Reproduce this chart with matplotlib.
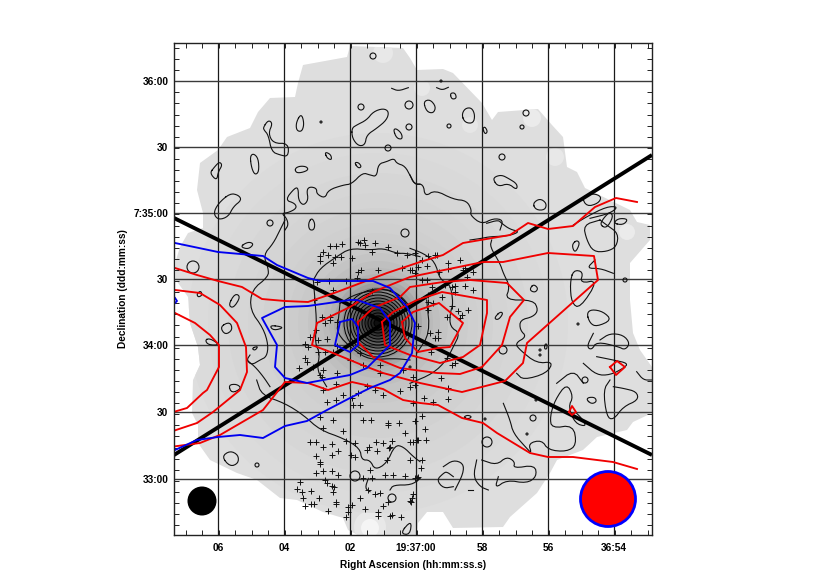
import numpy as np
import matplotlib
matplotlib.use("Agg")
import matplotlib.pyplot as plt
from matplotlib.patches import Polygon, Circle, Ellipse

plt.rcParams['font.family'] = ['Liberation Sans', 'DejaVu Sans']

# everything in image pixels (the map axes run in those units)
x_ticks = [218, 284, 350, 416, 482, 548, 614]
x_labels = ['06', '04', '02', '19:37:00', '58', '56', '36:54']
y_ticks = [81, 147, 213, 279, 345, 412, 479]
y_labels = ['36:00', '30', '7:35:00', '30', '34:00', '30', '33:00']

footprint = [(410, 58), (403, 48), (350, 46), (347, 57), (303, 65), (298, 83), (295, 97), (270, 98),
             (258, 112), (250, 128), (227, 137), (218, 150), (200, 163), (197, 190), (203, 213), (203, 228),
             (188, 233), (180, 247), (176, 260), (176, 280), (188, 297), (190, 323), (198, 347), (200, 365), (193, 380),
             (192, 413), (198, 425), (198, 443), (210, 460), (237, 473), (257, 480), (280, 498), (297, 500),
             (323, 512), (343, 518), (348, 530), (358, 535), (417, 535), (418, 523), (427, 512), (443, 512), (453, 528),
             (503, 527), (510, 517), (537, 493), (550, 473), (557, 460), (583, 450), (597, 437), (627, 430),
             (633, 422), (652, 413), (652, 367), (640, 350), (633, 333), (630, 300), (630, 263), (650, 240),
             (650, 225), (637, 222), (630, 210), (585, 188), (577, 172), (567, 167), (563, 137), (552, 125),
             (538, 109), (498, 112), (492, 120), (482, 103), (453, 73), (443, 69), (417, 70)]

# background darkening towards the core
core_radii = [190, 170, 150, 130, 115, 100, 90, 80, 70, 62, 55, 49, 44, 40, 36, 32, 28, 24, 20, 16, 12, 8, 4]
core_grays = [0.86, 0.85, 0.84, 0.83, 0.82, 0.81, 0.80, 0.79, 0.77, 0.75, 0.73, 0.70, 0.66, 0.62, 0.56, 0.50, 0.44, 0.38,
              0.31, 0.25, 0.18, 0.12, 0.06]
core_rings = [34, 31, 28, 25, 22, 19, 16, 13, 10, 7, 4]

# pale patches in the map (x, y, r, gray)
pale_spots = [(370, 527, 16, 0.91), (370, 528, 9, 0.96), (383, 53, 10, 0.91), (422, 88, 8, 0.91), (532, 118, 9, 0.92),
              (555, 157, 9, 0.91), (627, 232, 8, 0.92), (470, 125, 8, 0.9), (290, 100, 0, 0.9)]

# black contours, crop origin then closed loops / open lines
nw_origin = (170, 40)
nw_blobs = [
    [(545, 265), (547, 295), (565, 318), (585, 315), (590, 285), (620, 265), (650, 240), (657, 215), (640, 205), (610, 215), (590, 240), (560, 255)],
    [(670, 270), (680, 295), (697, 298), (695, 280), (678, 265)],
    [(553, 368), (565, 385), (575, 380), (565, 367)],
    [(390, 225), (378, 250), (380, 272), (395, 275), (402, 255), (398, 230)],
    [(465, 340), (472, 355), (485, 360), (483, 345), (470, 337)],
    [(375, 385), (378, 398), (395, 398), (415, 390), (410, 380), (390, 378)],
    [(280, 262), (295, 240), (308, 250), (295, 280), (310, 310), (355, 310), (355, 350), (330, 345), (305, 335), (295, 285), (282, 270)],
    [(240, 350), (245, 385), (255, 405), (267, 395), (265, 355), (250, 340)],
    [(130, 385), (120, 400), (140, 422), (145, 395), (157, 375), (148, 365)],
    [(180, 460), (145, 490), (130, 520), (145, 540), (175, 530), (190, 500), (215, 480), (205, 465)],
    [(425, 533), (415, 550), (418, 570), (432, 570), (435, 550)],
]
nw_lines = [
    [(665, 145), (685, 153), (715, 143)],
    [(750, 433), (735, 433), (722, 410), (705, 378), (680, 370), (672, 355), (650, 365), (625, 372), (620, 410), (600, 405),
     (578, 398), (545, 432), (520, 435), (475, 450), (465, 475), (440, 462), (440, 445), (420, 440), (410, 450), (415, 480), (400, 497),
     (385, 480), (385, 445), (375, 443), (345, 480), (375, 490), (380, 505), (355, 518), (335, 520), (350, 535), (355, 555), (345, 570)],
]
ne_origin = (410, 40)
ne_blobs = [
    [(40, 185), (50, 215), (70, 220), (78, 200), (60, 178)],
    [(120, 160), (125, 178), (140, 175), (135, 158)],
    [(155, 225), (165, 248), (190, 250), (195, 225), (185, 203), (165, 205)],
    [(218, 265), (225, 283), (233, 275), (225, 260)],
    [(250, 420), (265, 440), (295, 430), (320, 450), (322, 432), (295, 415), (275, 405), (255, 410)],
    [(368, 490), (378, 510), (405, 510), (410, 490), (390, 475)],
    [(515, 470), (530, 500), (565, 490), (575, 470), (550, 460)],
    [(570, 555), (590, 565), (610, 530), (600, 515), (580, 535)],
    [(610, 550), (640, 555), (655, 537), (625, 535)],
]
ne_lines = [
    [(0, 405), (12, 432), (40, 432), (45, 470), (75, 450), (130, 478), (170, 482), (185, 510), (180, 525), (215, 553), (250, 535), (280, 540), (270, 570)],
    [(80, 143), (97, 150), (115, 142)],
    [(490, 555), (530, 530), (590, 500), (625, 500), (600, 520), (540, 535)],
]
mid_w_origin = (170, 220)
mid_w_blobs = [
    [(80, 222), (92, 212), (97, 225), (85, 232)],
    [(175, 255), (195, 220), (212, 230), (190, 265)],
    [(150, 320), (180, 305), (188, 330), (165, 345)],
    [(105, 360), (120, 355), (150, 375), (115, 375)],
    [(245, 385), (265, 378), (255, 392)],
    [(298, 315), (345, 322), (310, 332)],
    [(210, 80), (235, 65), (252, 72), (235, 88)],
]
mid_w_lines = [
    [(345, 0), (330, 30), (310, 70), (280, 105), (295, 145), (295, 170), (245, 210), (240, 270), (280, 325), (295, 375), (290, 410),
     (270, 420), (245, 435), (230, 420), (240, 405)],
    [(230, 420), (255, 440), (280, 470), (300, 500)],
    [(430, 180), (450, 145), (500, 110), (540, 85), (600, 90), (640, 85), (680, 100), (710, 100), (750, 110)],
    [(430, 180), (435, 240), (440, 310), (435, 370), (450, 400), (440, 450), (470, 500)],
    [(510, 250), (560, 220), (650, 205), (690, 225), (720, 260)],
    [(510, 250), (505, 300), (500, 340), (550, 390), (600, 420), (670, 415), (720, 420)],
]
mid_e_origin = (410, 220)
mid_e_blobs = [
    [(490, 150), (480, 190), (485, 250), (510, 265), (565, 180), (510, 190), (520, 155)],
    [(530, 280), (540, 310), (560, 320), (605, 300), (580, 275), (545, 268)],
    [(270, 275), (252, 295), (265, 300), (280, 280)],
    [(370, 192), (358, 210), (375, 218), (385, 205)],
    [(500, 60), (485, 75), (495, 100), (510, 70)],
    [(405, 372), (403, 387), (411, 387), (411, 372)],
]
mid_e_lines = [
    [(0, 85), (40, 100), (75, 125), (90, 180), (120, 190), (130, 250), (120, 280), (120, 320), (150, 340), (130, 380), (110, 420), (70, 460), (0, 490)],
    [(50, 240), (60, 340), (20, 400)],
    [(180, 60), (215, 55), (240, 50), (295, 48), (330, 35), (300, 28), (275, 10), (265, 0), (230, 10)],
    [(245, 60), (240, 80), (270, 130), (280, 160), (300, 200), (285, 240), (370, 240), (385, 270), (370, 290), (330, 300), (330, 330),
     (350, 350), (315, 370), (330, 390), (380, 430), (430, 425), (410, 460), (340, 480), (320, 460)],
    [(570, 0), (520, 15), (530, 60), (550, 95), (590, 95), (620, 80), (625, 40), (590, 15), (570, 0)],
    [(555, 120), (530, 145), (570, 145), (610, 160)],
    [(550, 340), (530, 380), (545, 390), (560, 365), (625, 380), (645, 390), (660, 370), (640, 345), (600, 340), (570, 360)],
    [(520, 430), (560, 465), (600, 465), (640, 445), (655, 430), (610, 420), (560, 410)],
    [(440, 490), (490, 450), (520, 490)],
    [(680, 455), (700, 480), (725, 480)],
]
sw_origin = (170, 380)
sw_blobs = [
    [(155, 230), (180, 260), (205, 250), (205, 225), (180, 212)],
    [(690, 460), (725, 420), (720, 465)],
    [(175, 15), (185, 40), (215, 25), (200, 12)],
]
sw_lines = [
    [(260, 0), (275, 45), (345, 70), (400, 105), (450, 150), (520, 175), (570, 205), (575, 240), (600, 240), (615, 270),
     (650, 250), (675, 195), (700, 200), (730, 230), (750, 245)],
    [(660, 330), (670, 315), (725, 315), (750, 295)],
    [(600, 335), (585, 325), (595, 295)],
]
se_origin = (410, 380)
se_lines = [
    [(280, 70), (300, 120), (310, 160), (350, 205), (365, 220), (355, 190), (395, 180), (415, 210), (470, 215), (500, 195), (490, 135),
     (425, 145), (420, 110), (435, 60), (470, 10), (490, 50), (475, 80), (495, 130), (530, 140), (515, 115), (500, 100)],
    [(600, 0), (580, 30), (590, 110), (610, 120), (640, 80), (685, 60), (680, 35), (640, 25), (610, 20)],
    [(100, 260), (130, 240), (160, 250), (160, 280), (135, 330)],
    [(130, 290), (110, 275), (100, 280), (80, 300), (100, 325), (130, 320)],
    [(200, 240), (190, 290), (210, 320), (235, 330)],
    [(215, 240), (260, 255), (290, 230), (315, 245), (310, 265), (375, 255), (380, 290), (350, 310), (290, 300), (255, 325), (265, 290)],
    [(175, 330), (190, 330)],
]
se_blobs = [
    [(530, 60), (545, 72), (560, 65), (555, 52), (535, 52)],
    [(160, 112), (175, 117), (186, 110), (172, 105)],
]

# (x, y, r) small round contours, image pixels
contour_rings = [(373, 56, 3), (409, 105, 4), (361, 107, 3), (388, 148, 3), (270, 223, 3), (193, 267, 6), (405, 233, 4), (409, 127, 3),
                 (449, 126, 2), (522, 127, 2), (502, 157, 3), (526, 113, 3), (625, 280, 2), (540, 355, 1), (540, 350, 1),
                 (503, 350, 4), (585, 380, 3), (533, 418, 3), (487, 442, 5), (355, 476, 5), (392, 498, 4), (257, 465, 2), (578, 324, 1),
                 (321, 122, 1), (441, 81, 1), (527, 434, 1), (485, 419, 1), (536, 400, 1), (410, 367, 1)]

# red contours, image pixels
red_outer = [(175, 268), (197, 275), (218, 281), (242, 287), (262, 299), (285, 301), (308, 302), (337, 292), (387, 273), (420, 262),
             (443, 255), (463, 243), (510, 235), (528, 223), (548, 229), (573, 226), (595, 207), (616, 198), (637, 202)]
red_lower = [(170, 447), (200, 443), (220, 435), (263, 410), (285, 382), (308, 383), (328, 390), (352, 382), (383, 389), (403, 400),
             (420, 403), (438, 405), (462, 418), (483, 423), (497, 433), (530, 453), (548, 457), (573, 457), (613, 462), (637, 469)]
red_arc1 = [(175, 290), (200, 293), (220, 305), (237, 323), (246, 347), (247, 372), (240, 390), (213, 412), (197, 423), (170, 432)]
red_arc2 = [(175, 313), (195, 323), (210, 335), (219, 345), (219, 367), (207, 390), (203, 393), (187, 408), (170, 413)]
red_big = [(317, 323), (312, 345), (333, 353), (362, 365), (383, 373), (420, 383), (462, 392), (505, 381), (523, 363), (527, 343),
           (598, 280), (598, 280), (594, 256), (548, 253), (503, 262), (483, 262), (410, 277), (373, 292), (350, 307), (317, 323)]
red_third = [(358, 322), (373, 308), (400, 297), (410, 287), (443, 282), (470, 280), (507, 283), (524, 300), (510, 317), (502, 345),
             (482, 367), (460, 374), (437, 373), (400, 368), (373, 357), (358, 342), (358, 322)]
red_second = [(382, 322), (393, 312), (417, 300), (442, 292), (487, 300), (487, 313), (480, 345), (463, 357), (440, 363), (410, 355),
              (385, 345), (382, 322)]
red_inner = [(402, 322), (413, 312), (439, 303), (463, 323), (450, 347), (438, 348), (418, 352), (405, 338), (402, 322)]
red_diamond1 = [(610, 367), (617, 361), (625, 367), (616, 375), (610, 367)]
red_diamond2 = [(569, 412), (572, 406), (576, 412), (572, 415), (569, 412)]
red_paths = [red_outer, red_lower, red_arc1, red_arc2, red_big, red_third, red_second, red_inner, red_diamond1, red_diamond2]

# blue contours, image pixels
blue_outer = [(175, 243), (218, 252), (263, 256), (277, 265), (308, 278), (320, 281), (373, 281), (390, 288), (407, 307), (415, 323),
              (412, 353), (400, 373), (390, 380), (370, 388), (350, 398), (327, 410), (307, 421), (285, 426), (263, 438), (240, 435),
              (218, 437), (197, 440), (175, 450)]
blue_mid = [(350, 300), (308, 306), (285, 307), (262, 318), (277, 345), (275, 367), (285, 378), (307, 383), (350, 375), (367, 368),
            (390, 345), (390, 322), (380, 308), (357, 300), (350, 300)]
blue_inner = [(340, 322), (352, 319), (358, 327), (358, 345), (350, 352), (335, 345), (340, 322)]
blue_edge = [(175, 298), (177, 301), (175, 303)]
blue_paths = [blue_outer, blue_mid, blue_inner, blue_edge]

slit_a = [(174, 218), (652, 455)]
slit_b = [(174, 455), (652, 155)]

# crosses (sources), crop coordinates
cross_mid_w = [(480, 77), (497, 77), (517, 72), (565, 65), (582, 60), (570, 70), (585, 75), (615, 70), (655, 80), (460, 97), (450, 108),
               (450, 122), (475, 105), (495, 110), (512, 112), (545, 115), (490, 130), (572, 150), (565, 155), (625, 150), (680, 100),
               (710, 105), (695, 145), (720, 150), (745, 140), (605, 95), (440, 185), (478, 182), (528, 182), (562, 175), (490, 210),
               (605, 212), (432, 240), (455, 290), (480, 290), (500, 305), (465, 310), (480, 300), (437, 330), (420, 350), (445, 360),
               (470, 358), (405, 372), (415, 380), (445, 395), (465, 395), (490, 395), (405, 415), (410, 425), (388, 445), (430, 440),
               (460, 450), (450, 465), (455, 470), (500, 460), (540, 420), (570, 400), (580, 435), (630, 435), (630, 460), (700, 450),
               (730, 470), (500, 378)]
cross_mid_e = [(15, 100), (55, 107), (75, 105), (35, 120), (50, 138), (80, 105), (115, 130), (150, 120), (115, 147), (88, 157), (165, 145),
               (190, 155), (170, 170), (160, 150), (5, 150), (15, 160), (35, 180), (50, 180), (65, 200), (105, 195), (125, 200), (135, 197),
               (135, 215), (165, 197), (188, 210), (55, 225), (95, 230), (55, 245), (70, 250), (125, 257), (145, 272), (175, 270), (155, 285),
               (110, 292), (150, 295), (55, 270), (25, 317), (85, 335), (60, 338), (75, 355), (85, 355), (62, 397), (110, 413), (135, 430),
               (125, 435), (92, 475), (15, 495), (115, 505)]
cross_sw = [(420, 185), (438, 185), (458, 200), (485, 193), (505, 213), (485, 225), (438, 227), (450, 245), (450, 252), (437, 280), (458, 273),
            (485, 273), (505, 285), (390, 305), (382, 327), (395, 337), (423, 332), (400, 353), (447, 355), (405, 377), (423, 372), (432, 372),
            (475, 393), (465, 300), (470, 310), (485, 318), (492, 320), (490, 337), (498, 365), (497, 372), (535, 380), (547, 375), (535, 395),
            (527, 410), (570, 353), (585, 388), (625, 395), (625, 408), (640, 378), (660, 408), (665, 405), (692, 410), (630, 340), (615, 342),
            (655, 365), (470, 65), (497, 60), (545, 55), (570, 75), (550, 75), (565, 40), (615, 30), (640, 45), (690, 32), (580, 120), (603, 120),
            (655, 128), (655, 135), (688, 128), (705, 160), (740, 180), (720, 185), (617, 187), (640, 188), (665, 182), (660, 200), (657, 205),
            (597, 200), (622, 212), (590, 210), (543, 225), (555, 232), (555, 190), (527, 183), (520, 153), (490, 120), (460, 145), (450, 110),
            (650, 240), (720, 240), (600, 270), (645, 285), (668, 285), (705, 288), (740, 295), (605, 295), (580, 295), (595, 330), (720, 362),
            (725, 355), (498, 12), (460, 30), (590, 18), (720, 20), (520, 45)]
cross_se = [(115, 28), (115, 57), (42, 55), (68, 65), (8, 68), (35, 108), (15, 122), (45, 147), (25, 180), (48, 180), (8, 185), (35, 240),
            (32, 265), (25, 292), (15, 295), (8, 343), (3, 365)]


def from_crop(points, origin):
    return [(origin[0] + p[0] / 3, origin[1] + p[1] / 3) for p in points]


# corner cutting so the hand read contours come out round
def smooth(points, closed=False, passes=2):
    pts = np.array(points, dtype=float)
    for _ in range(passes):
        if closed:
            nxt = np.roll(pts, -1, axis=0)
            cut = np.empty((2 * len(pts), 2))
            cut[0::2] = 0.75 * pts + 0.25 * nxt
            cut[1::2] = 0.25 * pts + 0.75 * nxt
            pts = cut
        else:
            a, b = pts[:-1], pts[1:]
            mid = np.empty((2 * len(a), 2))
            mid[0::2] = 0.75 * a + 0.25 * b
            mid[1::2] = 0.25 * a + 0.75 * b
            pts = np.vstack([pts[:1], mid, pts[-1:]])
    if closed:
        pts = np.vstack([pts, pts[:1]])
    return pts


fig = plt.figure(figsize=(8.3, 5.81), dpi=100)
ax = fig.add_axes([174 / 830, 46 / 581, 478 / 830, 492 / 581])
ax.set_xlim(174, 652)
ax.set_ylim(535, 43)

map_shape = Polygon(footprint, closed=True, facecolor='#dedede', edgecolor='none', zorder=1)
ax.add_patch(map_shape)
for x, y, r, g in pale_spots:
    c = Circle((x, y), r, facecolor=str(g), edgecolor='none', zorder=1.05)
    ax.add_patch(c)
    c.set_clip_path(map_shape)
for r, g in zip(core_radii, core_grays):
    c = Ellipse((378, 323), 2 * r, 2 * r, facecolor=str(g), edgecolor='none', zorder=1.1)
    ax.add_patch(c)
    c.set_clip_path(map_shape)

for r in core_rings:
    ax.add_patch(Ellipse((378, 323), 2 * r, 2 * r, fill=False, edgecolor='black', lw=0.7, zorder=3))

contour_color = '#111111'
groups = [(nw_origin, nw_blobs, nw_lines), (ne_origin, ne_blobs, ne_lines), (mid_w_origin, mid_w_blobs, mid_w_lines),
          (mid_e_origin, mid_e_blobs, mid_e_lines), (sw_origin, sw_blobs, sw_lines), (se_origin, se_blobs, se_lines)]
for origin, blobs, lines in groups:
    for b in blobs:
        p = smooth(from_crop(b, origin), closed=True)
        ax.plot(p[:, 0], p[:, 1], color=contour_color, lw=0.8, zorder=3)
    for l in lines:
        p = smooth(from_crop(l, origin))
        ax.plot(p[:, 0], p[:, 1], color=contour_color, lw=0.8, zorder=3)
for cx, cy, r in contour_rings:
    ax.add_patch(Circle((cx, cy), r, fill=False, edgecolor=contour_color, lw=0.8, zorder=3))

for x in x_ticks:
    ax.axvline(x, color='#1a1a1a', lw=0.9, zorder=2)
for y in y_ticks:
    ax.axhline(y, color='#3a3a3a', lw=1.0, zorder=2)

for (pts, origin) in [(cross_mid_w, mid_w_origin), (cross_mid_e, mid_e_origin), (cross_sw, sw_origin), (cross_se, se_origin)]:
    p = np.array(from_crop(pts, origin))
    ax.plot(p[:, 0], p[:, 1], '+', color='#111111', ms=5, mew=0.7, zorder=4)

for s in (slit_a, slit_b):
    ax.plot([s[0][0], s[1][0]], [s[0][1], s[1][1]], color='black', lw=2.8, zorder=5, solid_capstyle='butt')

for path in red_paths:
    ax.plot([p[0] for p in path], [p[1] for p in path], color='#f00000', lw=1.35, zorder=6)
for path in blue_paths:
    ax.plot([p[0] for p in path], [p[1] for p in path], color='#0000f0', lw=1.35, zorder=6)

ax.add_patch(Circle((202, 501), 14.5, facecolor='black', edgecolor='none', zorder=7))
ax.add_patch(Circle((608, 499), 27.5, facecolor='#ff0000', edgecolor='#0000ff', lw=2, zorder=7))

ax.set_xticks(x_ticks)
ax.set_xticklabels(x_labels, fontsize=7.3, fontweight='bold')
ax.set_yticks(y_ticks)
ax.set_yticklabels(y_labels, fontsize=7.3, fontweight='bold')
ax.set_xticks(np.arange(185.5, 652, 16.5), minor=True)
ax.set_yticks(np.arange(48, 535, 11.1), minor=True)
ax.tick_params(which='both', direction='in', top=True, right=True, length=3.6, width=0.7, color='#222222')
ax.tick_params(which='major', length=0)
ax.tick_params(axis='x', which='major', pad=6)
ax.tick_params(axis='y', which='major', pad=4)
ax.set_xlabel('Right Ascension (hh:mm:ss.s)', fontsize=7.25, fontweight='bold', labelpad=5)
ax.set_ylabel('Declination (ddd:mm:ss)', fontsize=7.25, fontweight='bold', labelpad=4)
for spine in ax.spines.values():
    spine.set_linewidth(1.0)
    spine.set_color('#222222')
    spine.set_zorder(8)

fig.savefig('out.png', dpi=100)
